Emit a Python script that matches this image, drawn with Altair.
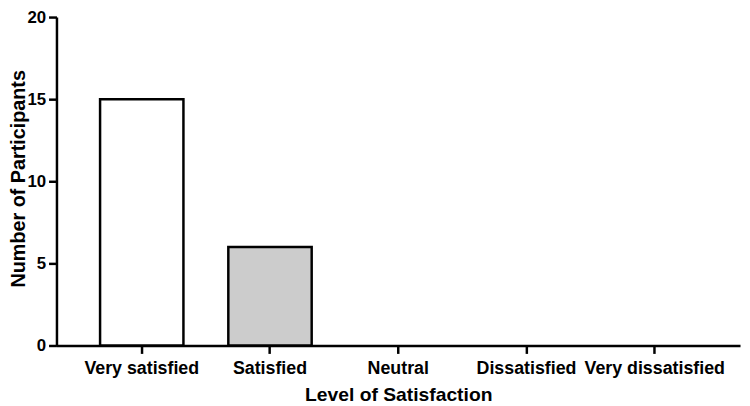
import altair as alt
import pandas as pd

categories = ["Very satisfied", "Satisfied", "Neutral", "Dissatisfied", "Very dissatisfied"]
counts = [15, 6, 0, 0, 0]
fills = ["#ffffff", "#cccccc", "#ffffff", "#ffffff", "#ffffff"]
y_ticks = [0, 5, 10, 15, 20]

df = pd.DataFrame({"level": categories, "count": counts})

FONT = "Liberation Sans"
PLOT_H = 332

chart = alt.Chart(df).mark_bar(stroke="black", strokeWidth=2.5).encode(
    x=alt.X(
        "level:N",
        sort=categories,
        scale=alt.Scale(paddingInner=0.35, paddingOuter=0.34),
        axis=alt.Axis(
            title="Level of Satisfaction",
            labelAngle=0,
            labelFont=FONT,
            labelFontSize=18,
            labelFontWeight="bold",
            labelColor="black",
            labelPadding=6,
            titleFont=FONT,
            titleFontSize=19.5,
            titleFontWeight="bold",
            titleColor="black",
            titlePadding=9,
            domainColor="black",
            domainWidth=2.5,
            tickColor="black",
            tickWidth=2.5,
            tickSize=8,
            grid=False,
        ),
    ),
    y=alt.Y(
        "count:Q",
        scale=alt.Scale(domain=[0, 20], nice=False),
        axis=alt.Axis(
            title="Number of Participants",
            values=y_ticks,
            labelFont=FONT,
            labelFontSize=17,
            labelFontWeight="bold",
            labelColor="black",
            labelPadding=3,
            titleFont=FONT,
            titleFontSize=20,
            titleFontWeight="bold",
            titleColor="black",
            titleBaseline="alphabetic",
            titleX=-32,
            titleY=PLOT_H / 2 - 3,
            domainColor="black",
            domainWidth=2.5,
            tickColor="black",
            tickWidth=2.5,
            tickSize=8,
            grid=False,
        ),
    ),
    fill=alt.Fill("level:N", scale=alt.Scale(domain=categories, range=fills), legend=None),
    strokeOpacity=alt.condition(alt.datum.count > 0, alt.value(1), alt.value(0)),
).properties(
    width=691,
    height=PLOT_H,
    autosize=alt.AutoSizeParams(type="none"),
    padding={"left": 49, "top": 7, "right": 2, "bottom": 59},
).configure_view(stroke=None)

chart.save("out.html", embed_options={"renderer": "svg", "actions": False})
